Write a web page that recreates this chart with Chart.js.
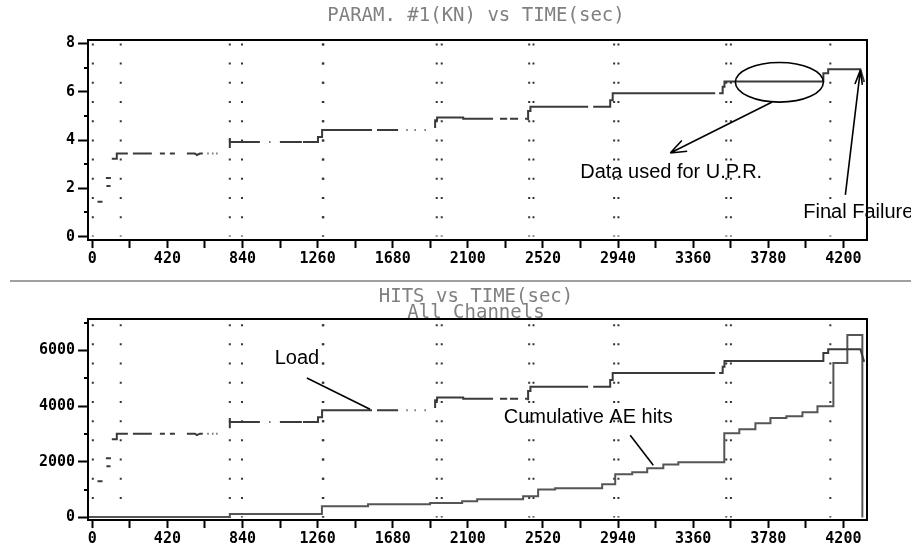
<!DOCTYPE html>
<html>
<head>
<meta charset="utf-8">
<script src="https://cdn.jsdelivr.net/npm/chart.js@4.4.1/dist/chart.umd.min.js"></script>
<style>
  html, body { margin: 0; padding: 0; background: #fff; }
  body { width: 911px; height: 549px; position: relative; overflow: hidden; }
  canvas { position: absolute; left: 0; }
  #topChart { top: 0; }
  #bottomChart { top: 280px; }
  .sep { position: absolute; left: 10px; top: 280px; width: 901px; height: 2px; background: #a0a0a0; }
  .ttl { position: absolute; left: 276px; width: 400px; text-align: center; white-space: pre;
         font: 19px "DejaVu Sans Mono", monospace; color: #808080; }
</style>
</head>
<body>
<canvas id="topChart" width="911" height="270"></canvas>
<canvas id="bottomChart" width="911" height="269"></canvas>
<div class="sep"></div>
<div class="ttl" style="top:5px;line-height:19px">PARAM. #1(KN) vs TIME(sec)</div>
<div class="ttl" style="top:287px;line-height:16px">HITS vs TIME(sec)
All Channels</div>
<script>
// time axis (sec)
const xTickValues = [0, 210, 420, 630, 840, 1050, 1260, 1470, 1680, 1890, 2100,
    2310, 2520, 2730, 2940, 3150, 3360, 3570, 3780, 3990, 4200];
const xLabels = [0, 420, 840, 1260, 1680, 2100, 2520, 2940, 3360, 3780, 4200];

// dotted marker lines (sec)
const markerTimes = [3, 159, 769, 837, 1289, 1292, 1926, 1954, 2443, 2467,
    2918, 2942, 3545, 3571, 4127];

// load record: time, kN (top plot), same load on the hits axis (bottom plot); null = gap
const loadTime = [
    29, 57, 57, 76, 104, 104, 79, 102, 102,
    109, 137, 137, 199, 199, 227, 333, 333, 378, 406, 406, 434, 462, 462,
    529, 574, 585, 602, 618, 618, 644, 650, 650, 671, 677, 677, 694, 700, 700,
    769, 769, 769, 769, 937, 937, 990, 996, 996, 1049, 1172, 1172,
    1178, 1262, 1262, 1285, 1285, 1564, 1564, 1592, 1710, 1710,
    1757, 1763, 1763, 1802, 1808, 1808, 1858, 1864, 1864,
    1917, 1917, 1928, 1928, 2074, 2074, 2241, 2241, 2280, 2320, 2320,
    2336, 2381, 2381, 2420, 2431, 2431,
    2437, 2437, 2450, 2450, 2773, 2773, 2801, 2879, 2896, 2896, 2910, 2910, 3483, 3483,
    3505, 3525, 3525, 3535, 3535, 4088, 4088, 4115, 4115, 4295, 4316
];
const loadKN = [
    1.44, 1.44, null, 2.43, 2.43, null, 2.1, 2.1, null,
    3.22, 3.22, 3.44, 3.44, null, 3.44, 3.44, null, 3.44, 3.44, null, 3.44, 3.44, null,
    3.44, 3.44, 3.38, 3.44, 3.44, null, 3.44, 3.44, null, 3.44, 3.44, null, 3.44, 3.44, null,
    3.67, 4.08, null, 3.92, 3.92, null, 3.92, 3.92, null, 3.92, 3.92, null,
    3.92, 3.92, 4.12, 4.12, 4.41, 4.41, null, 4.41, 4.41, null,
    4.41, 4.41, null, 4.41, 4.41, null, 4.41, 4.41, null,
    4.5, 4.82, 4.82, 4.93, 4.93, 4.88, 4.88, null, 4.88, 4.88, null,
    4.88, 4.88, null, 4.88, 4.88, null,
    4.82, 5.2, 5.2, 5.38, 5.38, null, 5.38, 5.38, 5.38, 5.65, 5.65, 5.94, 5.94, null,
    5.94, 5.94, 6.2, 6.2, 6.42, 6.42, 6.76, 6.76, 6.93, 6.93, 6.4
];
const loadHits = [
    1300, 1300, null, 2130, 2130, null, 1840, 1840, null,
    2810, 2810, 3010, 3010, null, 3010, 3010, null, 3010, 3010, null, 3010, 3010, null,
    3010, 3010, 2960, 3010, 3010, null, 3010, 3010, null, 3010, 3010, null, 3010, 3010, null,
    3210, 3570, null, 3430, 3430, null, 3430, 3430, null, 3430, 3430, null,
    3430, 3430, 3600, 3600, 3850, 3850, null, 3850, 3850, null,
    3850, 3850, null, 3850, 3850, null, 3850, 3850, null,
    3930, 4210, 4210, 4310, 4310, 4270, 4270, null, 4270, 4270, null,
    4270, 4270, null, 4270, 4270, null,
    4210, 4550, 4550, 4700, 4700, null, 4700, 4700, 4700, 4940, 4940, 5190, 5190, null,
    5190, 5190, 5420, 5420, 5620, 5620, 5910, 5910, 6050, 6050, 5600
];

// cumulative AE hits (each value holds from its time to the next)
const hitsTime = [-24, 769, 1284, 1542, 1889, 2068, 2152, 2409, 2493, 2588, 2851, 2924,
    3019, 3103, 3193, 3277, 3534, 3618, 3708, 3792, 3881, 3971, 4055, 4144, 4222, 4306];
const hitsCount = [10, 120, 400, 470, 515, 580, 650, 760, 1000, 1050, 1190, 1550,
    1620, 1770, 1900, 1980, 3030, 3170, 3390, 3570, 3640, 3780, 4000, 5550, 6560, 0];

// y axes
const kNTicks = [0, 2, 4, 6, 8];
const kNMinor = [1, 3, 5, 7];
const hitsTicks = [0, 2000, 4000, 6000];
const hitsMinor = [1000, 3000, 5000, 7000];

const tickFont = { family: '"DejaVu Sans Mono", monospace', size: 15, weight: 'bold' };

function arrowHead(ctx, fx, fy, tx, ty, len, spread) {
    const ang = Math.atan2(ty - fy, tx - fx);
    ctx.moveTo(tx, ty);
    ctx.lineTo(tx - len * Math.cos(ang - spread), ty - len * Math.sin(ang - spread));
    ctx.moveTo(tx, ty);
    ctx.lineTo(tx - len * Math.cos(ang + spread), ty - len * Math.sin(ang + spread));
}

// frame, short minor ticks and the hand-written notes
const paperPlugin = {
    id: "paper",
    afterDatasetsDraw(chart, args, opts) {
        const ctx = chart.ctx;
        const a = chart.chartArea;
        const x = chart.scales.x, y = chart.scales.y;
        ctx.save();
        ctx.strokeStyle = "#000";
        ctx.lineWidth = 2;
        ctx.strokeRect(a.left, a.top, a.right - a.left, a.bottom - a.top);
        ctx.beginPath();
        opts.minor.forEach(function (v) {
            const py = Math.round(y.getPixelForValue(v));
            ctx.moveTo(a.left - 4, py);
            ctx.lineTo(a.left, py);
        });
        ctx.stroke();

        ctx.fillStyle = "#000";
        ctx.font = '20px "Liberation Sans", Arial, sans-serif';
        ctx.textBaseline = "middle";
        opts.notes.forEach(function (n) {
            if (n.type === "text") {
                ctx.textAlign = n.align;
                ctx.fillText(n.text, x.getPixelForValue(n.x), y.getPixelForValue(n.y));
                return;
            }
            ctx.beginPath();
            ctx.lineWidth = 1.6;
            if (n.type === "ellipse") {
                const cx = x.getPixelForValue(n.x), cy = y.getPixelForValue(n.y);
                const rx = x.getPixelForValue(n.x + n.rx) - cx;
                const ry = cy - y.getPixelForValue(n.y + n.ry);
                ctx.ellipse(cx, cy, rx, ry, 0, 0, Math.PI * 2);
            } else {
                const x1 = x.getPixelForValue(n.x1), y1 = y.getPixelForValue(n.y1);
                const x2 = x.getPixelForValue(n.x2), y2 = y.getPixelForValue(n.y2);
                ctx.moveTo(x1, y1);
                ctx.lineTo(x2, y2);
                if (n.head) arrowHead(ctx, x1, y1, x2, y2, n.head, n.spread);
            }
            ctx.stroke();
        });
        ctx.restore();
    },
};

function markerSets(top) {
    return markerTimes.map(function (t) {
        return {
            data: [{ x: t, y: top }, { x: t, y: 0 }],
            borderColor: "#333",
            borderWidth: 2,
            borderDash: [2, 17.2],
            pointRadius: 0,
            order: 3,
        };
    });
}

function makeChart(id, datasets, yOpts, axisHeight, padTop, minor, notes) {
    return new Chart(document.getElementById(id), {
        type: "line",
        data: { datasets: datasets },
        options: {
            responsive: false,
            animation: false,
            layout: { padding: { left: 0, right: 44, top: padTop, bottom: 0 } },
            plugins: {
                legend: { display: false },
                tooltip: { enabled: false },
                paper: { minor: minor, notes: notes },
            },
            scales: {
                x: {
                    type: "linear",
                    min: -24,
                    max: 4332,
                    afterBuildTicks: function (s) {
                        s.ticks = xTickValues.map(function (v) { return { value: v }; });
                    },
                    afterFit: function (s) { s.height = axisHeight; },
                    ticks: {
                        autoSkip: false,
                        maxRotation: 0,
                        padding: 2,
                        color: "#000",
                        font: tickFont,
                        callback: function (v) { return xLabels.includes(v) ? String(v) : ""; },
                    },
                    grid: { drawOnChartArea: false, tickLength: 8, tickColor: "#000", tickWidth: 2 },
                    border: { color: "#000", width: 2 },
                },
                y: {
                    type: "linear",
                    min: yOpts.min,
                    max: yOpts.max,
                    afterBuildTicks: function (s) {
                        s.ticks = yOpts.ticks.map(function (v) { return { value: v }; });
                    },
                    afterFit: function (s) { s.width = 88; },
                    ticks: {
                        padding: 3,
                        color: "#000",
                        font: tickFont,
                        callback: function (v) { return String(v); },
                    },
                    grid: { drawOnChartArea: false, tickLength: 10, tickColor: "#000", tickWidth: 2 },
                    border: { color: "#000", width: 2 },
                },
            },
        },
        plugins: [paperPlugin],
    });
}

// PARAM #1 (kN)
makeChart("topChart",
    [{
        data: loadTime.map(function (t, i) { return { x: t, y: loadKN[i] }; }),
        borderColor: "#3a3a3a",
        borderWidth: 2,
        pointRadius: 0,
        spanGaps: false,
        order: 1,
    }].concat(markerSets(8)),
    { min: -0.14, max: 8.14, ticks: kNTicks },
    30, 40, kNMinor,
    [
        { type: "ellipse", x: 3842, y: 6.39, rx: 246, ry: 0.82 },
        { type: "line", x1: 3802, y1: 5.57, x2: 3232, y2: 3.46, head: 17, spread: 0.36 },
        { type: "text", x: 3237, y: 2.64, text: "Data used for U.P.R.", align: "center" },
        { type: "line", x1: 4211, y1: 1.73, x2: 4295, y2: 6.9, head: 15, spread: 0.25 },
        { type: "text", x: 3976, y: 0.99, text: "Final Failure", align: "left" },
    ]);

// HITS
makeChart("bottomChart",
    [{
        data: loadTime.map(function (t, i) { return { x: t, y: loadHits[i] }; }),
        borderColor: "#3a3a3a",
        borderWidth: 2,
        pointRadius: 0,
        spanGaps: false,
        order: 1,
    }, {
        data: hitsTime.map(function (t, i) { return { x: t, y: hitsCount[i] }; }),
        borderColor: "#555",
        borderWidth: 2,
        pointRadius: 0,
        stepped: "before",
        order: 2,
    }].concat(markerSets(6950)),
    { min: -94, max: 7135, ticks: hitsTicks },
    29, 39, hitsMinor,
    [
        { type: "text", x: 1144, y: 5730, text: "Load", align: "center" },
        { type: "line", x1: 1200, y1: 5010, x2: 1553, y2: 3890 },
        { type: "text", x: 2773, y: 3600, text: "Cumulative AE hits", align: "center" },
        { type: "line", x1: 3008, y1: 2955, x2: 3137, y2: 1874 },
    ]);
</script>
</body>
</html>
